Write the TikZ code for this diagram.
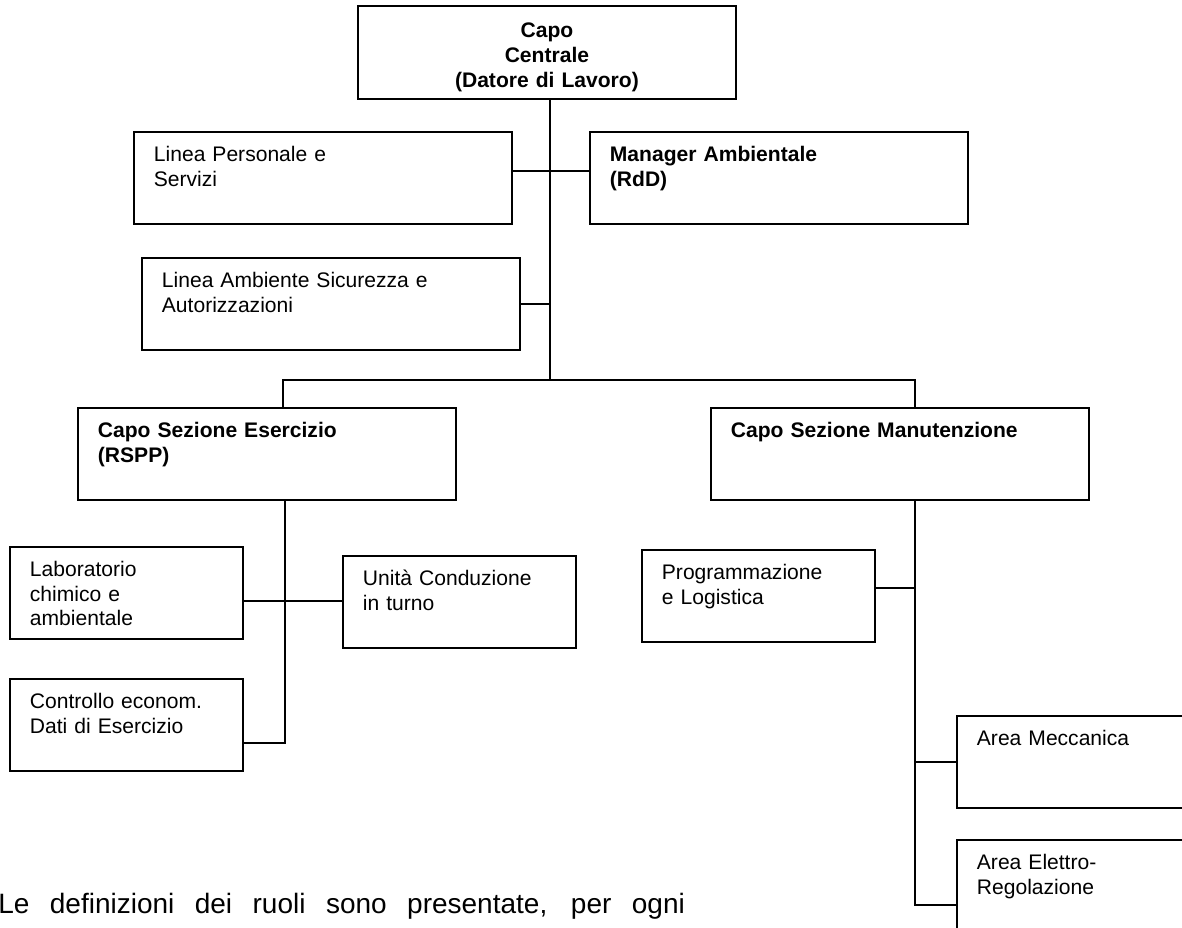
\documentclass[tikz,border=0pt]{standalone}
\usepackage{fontspec}
\setmainfont{Liberation Sans}
\newfontfamily\boxfont{Liberation Sans}
\newfontfamily\notefont{Liberation Sans}
\usetikzlibrary{positioning}

\begin{document}
\begin{tikzpicture}[x=0.75pt,y=-0.75pt,
    unit/.style={draw,line width=1.4pt,anchor=north west,inner xsep=15pt,inner ysep=0pt,
      align=left,text height=22.5pt,text depth=46.5pt,font=\boxfont\fontsize{15.8}{18.2}\selectfont},
    wide/.style={unit,text width=253.5pt},
    narrow/.style={unit,text width=145pt},
    head/.style={font=\boxfont\fontsize{15.8}{18.6}\selectfont\bfseries},
    link/.style={line width=1.4pt}]
    \useasboundingbox (0,0) rectangle (1182,928);
    \node[wide,head,align=center,text height=24pt,text depth=45.75pt] (chief) at (357,5) {Capo\\Centrale\\(Datore di Lavoro)};
    \node[wide] (staff) at (133,131) {Linea Personale e\\Servizi};
    \node[wide,head] (envman) at (589,131) {Manager Ambientale\\(RdD)};
    \node[wide] (safety) at (141,257) {Linea Ambiente Sicurezza e\\Autorizzazioni};
    \node[wide,head] (ops) at (77,407) {Capo Sezione Esercizio\\(RSPP)};
    \node[wide,head] (maint) at (710,407) {Capo Sezione Manutenzione};
    \node[narrow] (lab) at (9,546) {Laboratorio\\chimico e\\ambientale};
    \node[narrow] (shift) at (342,555) {Unit\`a Conduzione\\in turno};
    \node[narrow] (control) at (9,678) {Controllo econom.\\Dati di Esercizio};
    \node[narrow] (planning) at (641,549) {Programmazione\\e Logistica};
    \node[wide] (mech) at (956,715) {Area Meccanica};
    \node[wide] (elec) at (956,839) {Area Elettro-\\Regolazione};
    \node[anchor=base west,inner sep=0pt,font=\notefont\fontsize{21}{25}\selectfont] (note) at (-2,913)
      {\makebox[515pt][s]{Le definizioni dei ruoli sono presentate, per ogni}};
    % junctions
    \coordinate (hub) at (550,380);
    \coordinate (toplink) at (550,171);
    \coordinate (opsdrop) at (283,380);
    \coordinate (maintdrop) at (915,380);
    \coordinate (lablink) at (285,601);
    \coordinate (opsline) at (285,743);
    \coordinate (planlink) at (915,588);
    \coordinate (maintline) at (915,905);
    \draw[link] (chief.south -| hub) -- (hub);
    \draw[link] (staff.east |- toplink) -- (envman.west |- toplink);
    \draw[link] (safety.east) -- (safety.east -| hub);
    \draw[link] (ops.north -| opsdrop) -- (opsdrop) -- (maintdrop) -- (maint.north -| maintdrop);
    \draw[link] (ops.south -| opsline) -- (opsline) -- (control.east |- opsline);
    \draw[link] (lab.east |- lablink) -- (shift.west |- lablink);
    \draw[link] (maint.south -| maintline) -- (maintline) -- (elec.west |- maintline);
    \draw[link] (planning.east |- planlink) -- (planlink);
    \draw[link] (mech.west) -- (mech.west -| maintline);
\end{tikzpicture}
\end{document}
